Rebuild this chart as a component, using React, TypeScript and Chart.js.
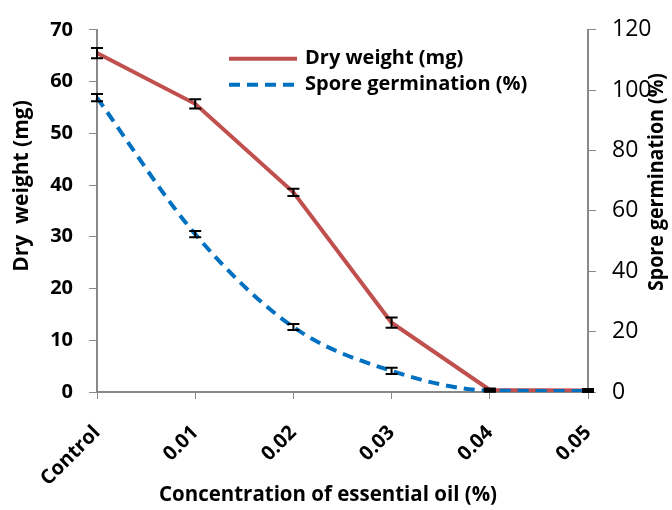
import React, { useEffect, useRef } from "react";
import { Chart, registerables } from "chart.js";
Chart.register(...registerables);

const categories = ["Control", "0.01", "0.02", "0.03", "0.04", "0.05"];
const dryWeight = [65.5, 55.7, 38.6, 13.4, 0.4, 0.3];
const dryWeightErr = [1.0, 0.9, 0.7, 1.0, 0.3, 0.3];
const sporeGermination = [97.5, 52.3, 21.5, 7.0, 0.5, 0.3];
const sporeErr = [1.2, 1.0, 1.0, 1.0, 0.3, 0.3];
const leftMax = 70;
const leftStep = 10;
const rightMax = 120;
const rightStep = 20;
const seriesNames = ["Dry weight (mg)", "Spore germination (%)"];
const leftTitle = "Dry  weight (mg)";
const rightTitle = "Spore germination (%)";
const xTitle = "Concentration of essential oil (%)";

const RED = "#C0504D";
const BLUE = "#0070C0";
const FONT = "'Open Sans', 'DejaVu Sans', sans-serif";

const errorPlugin = {
  id: "errbars",
  afterDatasetsDraw(chart: any) {
    const ctx = chart.ctx;
    const errs = [dryWeightErr, sporeErr];
    ctx.save();
    ctx.strokeStyle = "#000";
    ctx.lineWidth = 2;
    chart.data.datasets.forEach((ds: any, i: number) => {
      const meta = chart.getDatasetMeta(i);
      const ys = chart.scales[ds.yAxisID];
      meta.data.forEach((pt: any, j: number) => {
        const v = ds.data[j];
        const e = errs[i][j];
        const x = pt.x;
        const y1 = ys.getPixelForValue(v + e);
        const y2 = ys.getPixelForValue(v - e);
        ctx.beginPath();
        ctx.moveTo(x, y1);
        ctx.lineTo(x, y2);
        ctx.moveTo(x - 6, y1);
        ctx.lineTo(x + 6, y1);
        ctx.moveTo(x - 6, y2);
        ctx.lineTo(x + 6, y2);
        ctx.stroke();
      });
    });
    ctx.restore();
  },
};

const decorPlugin = {
  id: "decor",
  afterDraw(chart: any) {
    const ctx = chart.ctx;
    const ca = chart.chartArea;
    ctx.save();
    // legend
    const lx = ca.left + 132;
    const ly1 = ca.top + 29;
    const ly2 = ca.top + 55;
    ctx.lineWidth = 4;
    ctx.strokeStyle = RED;
    ctx.setLineDash([]);
    ctx.beginPath();
    ctx.moveTo(lx, ly1);
    ctx.lineTo(lx + 68, ly1);
    ctx.stroke();
    ctx.strokeStyle = BLUE;
    ctx.setLineDash([11, 7]);
    ctx.beginPath();
    ctx.moveTo(lx, ly2);
    ctx.lineTo(lx + 68, ly2);
    ctx.stroke();
    ctx.setLineDash([]);
    ctx.fillStyle = "#000";
    ctx.font = `bold 20px ${FONT}`;
    ctx.textAlign = "left";
    ctx.textBaseline = "middle";
    ctx.fillText(seriesNames[0], lx + 76, ly1 - 1, 160);
    ctx.fillText(seriesNames[1], lx + 76, ly2 - 1, 224);

    // axis titles
    ctx.font = `bold 21px ${FONT}`;
    ctx.textAlign = "center";
    ctx.fillText(xTitle, 328, 495, 338);

    ctx.save();
    ctx.translate(22, 186);
    ctx.rotate(-Math.PI / 2);
    ctx.fillText(leftTitle, 0, 0, 180);
    ctx.restore();

    ctx.save();
    ctx.translate(657, 182);
    ctx.rotate(-Math.PI / 2);
    ctx.fillText(rightTitle, 0, 0, 218);
    ctx.restore();

    ctx.restore();
  },
};

export default function App() {
  const ref = useRef<HTMLCanvasElement>(null);
  useEffect(() => {
    if (!ref.current) return;
    const chart = new Chart(ref.current, {
      type: "line",
      data: {
        labels: categories,
        datasets: [
          {
            label: seriesNames[0],
            data: dryWeight,
            borderColor: RED,
            backgroundColor: RED,
            borderWidth: 4,
            pointRadius: 0,
            tension: 0,
            yAxisID: "y",
            order: 1,
          },
          {
            label: seriesNames[1],
            data: sporeGermination,
            borderColor: BLUE,
            backgroundColor: BLUE,
            borderWidth: 4,
            borderDash: [11, 7],
            pointRadius: 0,
            tension: 0.35,
            cubicInterpolationMode: "monotone",
            yAxisID: "y1",
            order: 0,
          },
        ],
      } as any,
      options: {
        animation: false,
        responsive: false,
        maintainAspectRatio: false,
        layout: { padding: { top: 28, left: 0, right: 0, bottom: 0 } },
        plugins: {
          legend: { display: false },
          tooltip: { enabled: false },
          title: { display: false },
        },
        scales: {
          x: {
            offset: false,
            grid: {
              display: true,
              drawOnChartArea: false,
              drawTicks: true,
              tickLength: 7,
              color: "#888",
            },
            border: { color: "#888", width: 2 },
            ticks: {
              color: "#000",
              font: { family: FONT, weight: "bold", size: 20 },
              minRotation: 45,
              maxRotation: 45,
              padding: 22,
              autoSkip: false,
            },
            afterFit(s: any) {
              s.height = 118;
            },
          },
          y: {
            position: "left",
            min: 0,
            max: leftMax,
            grid: {
              drawOnChartArea: false,
              drawTicks: true,
              tickLength: 8,
              color: "#888",
            },
            border: { color: "#888", width: 2 },
            ticks: {
              stepSize: leftStep,
              color: "#000",
              font: { family: FONT, weight: "bold", size: 20 },
              padding: 16,
            },
            afterFit(s: any) {
              s.width = 97;
            },
          },
          y1: {
            position: "right",
            min: 0,
            max: rightMax,
            grid: {
              drawOnChartArea: false,
              drawTicks: true,
              tickLength: 8,
              color: "#888",
            },
            border: { color: "#888", width: 2 },
            ticks: {
              stepSize: rightStep,
              color: "#000",
              font: { family: FONT, size: 23 },
              padding: 16,
            },
            afterFit(s: any) {
              s.width = 84;
            },
          },
        },
      } as any,
      plugins: [errorPlugin, decorPlugin],
    });
    return () => chart.destroy();
  }, []);
  return (
    <div style={{ position: "absolute", left: 0, top: 0, width: 672, height: 510, background: "#fff" }}>
      <canvas ref={ref} width={672} height={510} style={{ width: 672, height: 510 }} />
    </div>
  );
}
